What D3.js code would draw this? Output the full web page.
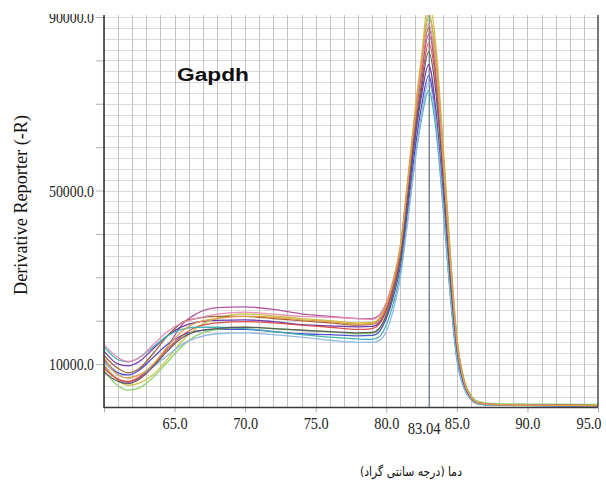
<!DOCTYPE html>
<html>
<head>
<meta charset="utf-8">
<script src="https://cdn.jsdelivr.net/npm/d3@7"></script>
<style>
  html, body { margin: 0; padding: 0; background: #fff; }
  svg { display: block; }
</style>
</head>
<body>
<div id="chart"></div>
<script>
// ---- data ----
const temps = [60, 61, 61.7, 62.5, 63.5, 64.5, 65.5, 66.5, 68, 70, 72, 74, 76, 78, 79, 79.5, 80, 80.5, 81, 81.5, 82, 82.5, 83, 83.5, 84, 84.5, 85, 85.5, 86, 86.5, 87.5, 90, 95];

const seriesNames = ["s1", "s2", "s3", "s4", "s5", "s6", "s7", "s8", "s9", "s10", "s11", "s12"];
const seriesColors = ["#b04c9c", "#6a2ea8", "#4848c8", "#c8c23c", "#86d068", "#9c5a36", "#d44a4a", "#3fb0b0", "#8cb6e2", "#5a5a5a", "#e38fb4", "#e2a044"];

const s1 = [9500, 6500, 5800, 6800, 9500, 14000, 19000, 21500, 23000, 23200, 22600, 21600, 21000, 20500, 20500, 21300, 24000, 29000, 36000, 50000, 65000, 77000, 86000, 77000, 56000, 33000, 14500, 6000, 2400, 1100, 700, 550, 450];
const s2 = [13000, 10000, 9600, 10600, 13600, 16600, 18600, 19600, 20100, 20200, 19800, 19100, 18800, 18600, 18700, 19600, 22500, 27500, 34500, 47000, 61000, 72000, 79000, 69000, 50000, 29000, 12000, 5000, 2000, 950, 600, 500, 420];
const s3 = [11000, 8000, 7500, 8600, 11600, 14600, 16600, 17600, 18000, 18000, 17500, 17000, 16800, 16500, 16600, 17500, 20500, 25500, 32500, 45000, 58500, 69500, 76500, 67000, 48500, 28000, 11500, 4800, 1900, 900, 580, 480, 400];
const s4 = [10000, 6200, 5100, 5600, 7600, 11200, 15200, 18200, 20600, 21600, 21100, 20500, 20000, 19500, 19600, 20600, 23800, 29500, 37500, 52000, 67500, 81000, 94000, 84000, 62000, 37500, 16500, 6500, 2600, 1200, 750, 600, 500];
const s5 = [8500, 5000, 4000, 4500, 7000, 10500, 14000, 16500, 18000, 18500, 18200, 17800, 17500, 17000, 17100, 18200, 21500, 27000, 35000, 49500, 65000, 79000, 90000, 81000, 60000, 36500, 16000, 6500, 2800, 1400, 900, 800, 700];
const s6 = [12000, 9000, 8000, 9000, 12500, 16500, 19500, 20500, 21000, 21000, 20500, 20000, 19500, 19000, 19200, 20200, 23300, 28500, 36500, 50500, 65500, 78000, 87500, 78000, 57000, 34000, 15000, 6000, 2400, 1100, 700, 550, 450];
const s7 = [9000, 6500, 6000, 7000, 10000, 13500, 16500, 18500, 19500, 19800, 19500, 19000, 18500, 18000, 18200, 19200, 22300, 27500, 35000, 48500, 63000, 75000, 84000, 75500, 55500, 33000, 14500, 6000, 2500, 1100, 700, 550, 450];
const s8 = [14000, 11000, 10500, 11500, 14000, 16500, 18000, 18500, 18500, 18200, 17500, 16800, 16200, 15800, 15700, 16300, 19000, 24000, 31000, 43000, 56000, 66500, 73000, 64500, 47000, 27000, 11000, 4500, 1800, 850, 550, 450, 380];
const s9 = [10500, 7500, 6800, 7500, 9500, 12000, 14500, 16000, 17000, 17200, 16800, 16200, 15500, 15000, 15000, 15400, 17500, 22500, 30000, 42500, 56000, 67500, 75000, 66500, 48000, 27500, 11500, 4700, 1900, 900, 580, 480, 400];
const s10 = [8200, 6000, 5500, 6500, 9500, 13000, 16000, 17500, 18200, 18500, 18200, 17800, 17500, 17200, 17300, 18200, 21200, 26500, 34000, 47500, 62000, 73500, 82000, 73000, 53500, 31500, 13500, 5500, 2200, 1000, 650, 520, 430];
const s11 = [14500, 11500, 10600, 11500, 14500, 17500, 19500, 20500, 21500, 22000, 21500, 21000, 20800, 20500, 20300, 21200, 24300, 29500, 37000, 51000, 66000, 78500, 88500, 79000, 58000, 35000, 15000, 6000, 2400, 1100, 700, 550, 450];
const s12 = [11500, 7500, 6800, 7500, 10000, 14000, 17500, 19500, 20500, 21000, 20800, 20200, 19800, 19200, 19300, 20300, 23500, 29000, 37000, 51500, 66500, 80000, 91000, 81500, 60000, 36000, 15800, 6300, 2500, 1150, 720, 560, 460];

const seriesValues = [s1, s2, s3, s4, s5, s6, s7, s8, s9, s10, s11, s12];

const xTickValues = [65, 70, 75, 80, 85, 90, 95];
const xTickLabels = ["65.0", "70.0", "75.0", "80.0", "85.0", "90.0", "95.0"];
const yTickValues = [10000, 50000, 90000];
const yTickLabels = ["10000.0", "50000.0", "90000.0"];
const tmValue = 83.04;
const tmLabel = "83.04";
const titleText = "Gapdh";
const yTitle = "Derivative Reporter (-R)";
const xTitle = "دما (درجه سانتی گراد)";

// ---- layout ----
const W = 606, H = 486;
const pLeft = 104, pRight = 598, pTop = 15, pBottom = 407.5;

const x = d3.scaleLinear().domain([60, 95]).range([pLeft, pRight]);
const y = d3.scaleLinear().domain([0, 90000]).range([pBottom, 17]);

const svg = d3.select("#chart").append("svg")
  .attr("width", W).attr("height", H)
  .style("background", "#fff");

svg.append("defs").append("clipPath").attr("id", "plotclip")
  .append("rect").attr("x", pLeft).attr("y", pTop)
  .attr("width", pRight - pLeft).attr("height", pBottom - pTop);

// grid
const grid = svg.append("g").attr("clip-path", "url(#plotclip)");
grid.selectAll("line.h").data(d3.range(0, 92501, 2500)).enter().append("line")
  .attr("x1", pLeft).attr("x2", pRight)
  .attr("y1", d => Math.round(y(d)) + 0.5).attr("y2", d => Math.round(y(d)) + 0.5)
  .attr("stroke", "#dadada").attr("stroke-width", 1);
grid.selectAll("line.v").data(d3.range(60, 95.01, 1)).enter().append("line")
  .attr("y1", pTop).attr("y2", pBottom)
  .attr("x1", d => Math.round(x(d)) + 0.5).attr("x2", d => Math.round(x(d)) + 0.5)
  .attr("stroke", "#c4c4c4").attr("stroke-width", 1);

// Tm line
grid.append("line")
  .attr("x1", x(tmValue)).attr("x2", x(tmValue))
  .attr("y1", pTop).attr("y2", pBottom)
  .attr("stroke", "#5f6f85").attr("stroke-width", 1.1);

// curves
const line = d3.line()
  .x((d, i) => x(temps[i]))
  .y(d => y(d))
  .curve(d3.curveMonotoneX);

const curves = svg.append("g").attr("clip-path", "url(#plotclip)");
curves.selectAll("path").data(seriesValues).enter().append("path")
  .attr("d", d => line(d))
  .attr("fill", "none")
  .attr("stroke", (d, i) => seriesColors[i])
  .attr("stroke-width", 1.3)
  .attr("stroke-opacity", 0.95);

// axes ticks
const yAxisTicks = d3.axisLeft(y).tickValues(d3.range(10000, 90001, 10000)).tickSize(8).tickFormat("");
svg.append("g").attr("transform", `translate(${pLeft},0)`).call(yAxisTicks)
  .call(g => g.select(".domain").remove())
  .call(g => g.selectAll(".tick line").attr("stroke", "#b0b0b0"));

const xAxisTicks = d3.axisBottom(x).tickValues(xTickValues.concat([60])).tickSize(5).tickFormat("");
svg.append("g").attr("transform", `translate(0,${pBottom})`).call(xAxisTicks)
  .call(g => g.select(".domain").remove())
  .call(g => g.selectAll(".tick line").attr("stroke", "#b0b0b0"));

// axis lines
svg.append("line").attr("x1", pLeft).attr("x2", pLeft).attr("y1", pTop).attr("y2", pBottom + 0.5)
  .attr("stroke", "#3a3a3a").attr("stroke-width", 1.6);
svg.append("line").attr("x1", pLeft).attr("x2", pRight).attr("y1", pBottom).attr("y2", pBottom)
  .attr("stroke", "#3a3a3a").attr("stroke-width", 1.6);
svg.append("line").attr("x1", pRight).attr("x2", pRight).attr("y1", pTop).attr("y2", pBottom)
  .attr("stroke", "#555").attr("stroke-width", 1.6);

// y tick labels
const yAxisLabels = d3.axisLeft(y).tickValues(yTickValues).tickSize(0).tickPadding(10)
  .tickFormat((d, i) => yTickLabels[i]);
svg.append("g").attr("transform", `translate(${pLeft},0)`).call(yAxisLabels)
  .call(g => g.select(".domain").remove())
  .call(g => g.selectAll("text")
    .attr("font-family", "'Liberation Serif', 'Times New Roman', serif")
    .attr("font-size", 17).attr("fill", "#222")
    .attr("textLength", 45).attr("lengthAdjust", "spacingAndGlyphs"));

// x tick labels
const xAxisLabels = d3.axisBottom(x).tickValues(xTickValues).tickSize(0).tickPadding(9)
  .tickFormat((d, i) => xTickLabels[i]);
svg.append("g").attr("transform", `translate(0,${pBottom})`).call(xAxisLabels)
  .call(g => g.select(".domain").remove())
  .call(g => g.selectAll("text")
    .attr("font-family", "'Liberation Serif', 'Times New Roman', serif")
    .attr("font-size", 17).attr("fill", "#222")
    .attr("textLength", 25).attr("lengthAdjust", "spacingAndGlyphs"))
  .call(g => g.selectAll(".tick").filter(d => d === 95).select("text")
    .attr("text-anchor", "end").attr("x", 3));

// Tm label
svg.append("text")
  .attr("x", x(tmValue) - 5).attr("y", 434)
  .attr("text-anchor", "middle")
  .attr("font-family", "'Liberation Serif', 'Times New Roman', serif")
  .attr("font-size", 17).attr("fill", "#222")
  .attr("textLength", 33).attr("lengthAdjust", "spacingAndGlyphs")
  .text(tmLabel);

// title inside plot
svg.append("text")
  .attr("x", 177).attr("y", 81)
  .attr("font-family", "'Liberation Sans', Arial, sans-serif")
  .attr("font-weight", "bold").attr("font-size", 18).attr("fill", "#111")
  .attr("textLength", 72).attr("lengthAdjust", "spacingAndGlyphs")
  .text(titleText);

// y title
svg.append("text")
  .attr("transform", "translate(27,205) rotate(-90)")
  .attr("text-anchor", "middle")
  .attr("font-family", "'Liberation Serif', 'Times New Roman', serif")
  .attr("font-size", 18).attr("fill", "#111")
  .attr("textLength", 180).attr("lengthAdjust", "spacingAndGlyphs")
  .text(yTitle);

// x title
svg.append("text")
  .attr("x", 411).attr("y", 476)
  .attr("text-anchor", "middle")
  .attr("font-family", "'DejaVu Sans', sans-serif")
  .attr("font-size", 13).attr("fill", "#111")
  .attr("textLength", 102).attr("lengthAdjust", "spacingAndGlyphs")
  .text(xTitle);

// the reference image is cropped just above the plot
svg.append("rect").attr("x", 0).attr("y", 0).attr("width", W).attr("height", 14).attr("fill", "#fff");
</script>
</body>
</html>
